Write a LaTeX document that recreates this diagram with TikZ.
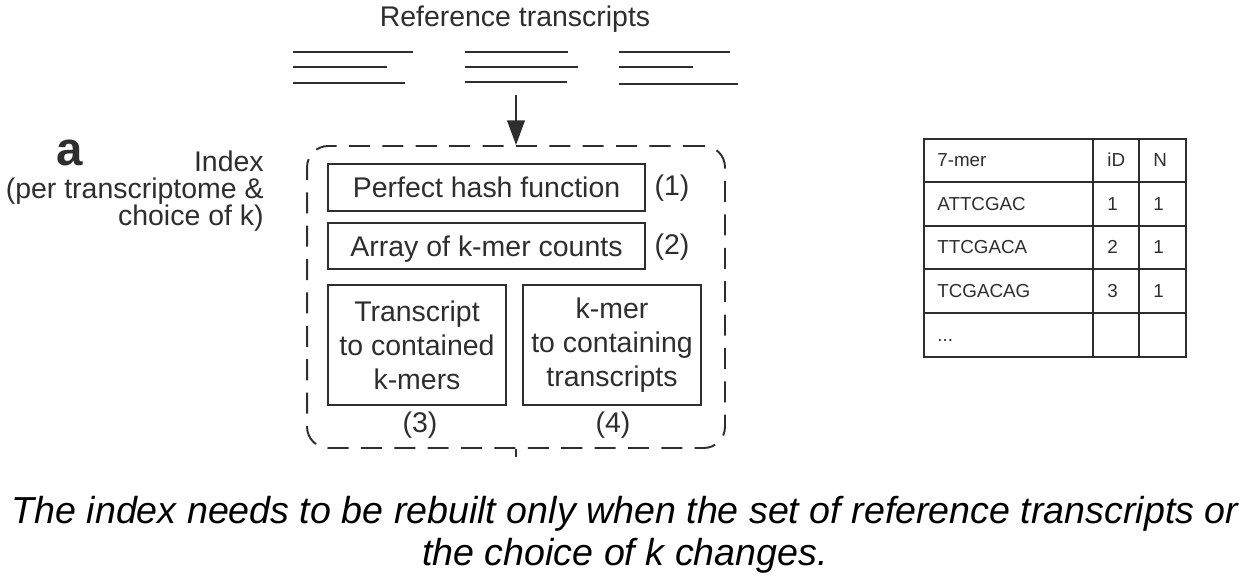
\documentclass[tikz,border=0pt]{standalone}
\usepackage{fontspec}
\setmainfont{Liberation Sans}
\usetikzlibrary{arrows.meta}
\definecolor{ink}{rgb}{0.18,0.18,0.18}
\tikzset{
  lab/.style={text=ink, inner sep=0pt, font=\fontsize{16.2}{19.3}\selectfont},
  box/.style={draw=ink, line width=1.1pt, inner sep=0pt, align=center, text=ink,
              font=\fontsize{16.2}{19.3}\selectfont},
  tline/.style={draw=ink, line width=1.3pt},
  cell/.style={text=ink, inner sep=0pt, anchor=base west, font=\fontsize{10.7}{12}\selectfont},
  grid/.style={draw=ink, line width=0.6pt},
  arr/.style={draw=ink, line width=1.1pt, -{Triangle[length=14pt,width=10pt]}},
}
\begin{document}
\begin{tikzpicture}[x=0.02cm,y=-0.02cm]
\useasboundingbox (0,0) rectangle (1250,580);

% title
\node[lab, anchor=base] (title) at (515,27) {Reference transcripts};

% transcript lines
\draw[tline] (293,52) -- (413,52);
\draw[tline] (293,67) -- (387,67);
\draw[tline] (293,83) -- (405,83);
\draw[tline] (465,52) -- (568,52);
\draw[tline] (465,67) -- (578,67);
\draw[tline] (465,82) -- (567,82);
\draw[tline] (619,52) -- (730,52);
\draw[tline] (619,67) -- (693,67);
\draw[tline] (619,84) -- (738,84);

% index box
\node[draw=ink, line width=1.1pt, dash pattern=on 12pt off 7pt, rounded corners=12pt,
      minimum width=8.36cm, minimum height=6.04cm, inner sep=0pt] (idx) at (516,297) {};
\coordinate (src) at (516,95);
\draw[arr] (src) -- (idx.north);
\coordinate (tick) at (516,457);
\draw[draw=ink, line width=1.1pt] (idx.south) -- (tick);

% inner boxes
\node[box, minimum width=6.34cm, minimum height=0.94cm, text depth=0pt] (phf) at (486.5,187.5) {Perfect hash function};
\node[box, minimum width=6.34cm, minimum height=0.92cm, text depth=0pt] (arr) at (486.5,246) {Array of k-mer counts};
\node[box, minimum width=3.56cm, minimum height=2.4cm] (t2k) at (417,345) {Transcript\\to contained\\k-mers};
\node[box, minimum width=3.56cm, minimum height=2.4cm] (k2t) at (612,345) {k-mer\\to containing\\transcripts};
\node[lab] (n1) at (672,188) {(1)};
\node[lab] (n2) at (672,247) {(2)};
\node[lab] (n3) at (420,425) {(3)};
\node[lab] (n4) at (613,425) {(4)};

% left labels
\node[text=ink, inner sep=0pt, font=\fontsize{27}{30}\selectfont\bfseries] (a) at (70,153) {a};
\node[lab, anchor=east, align=right, font=\fontsize{16.2}{15.3}\selectfont] (idxlab) at (264,191)
  {Index\\(per transcriptome \&\\choice of k)};

% table
\draw[grid] (924,139) rectangle (1186,357);
\draw[grid] (1093,139) -- (1093,357);
\draw[grid] (1139,139) -- (1139,357);
\foreach \y in {182,226,269,313} \draw[grid] (924,\y) -- (1186,\y);
\node[cell] (h1) at (937,167) {7-mer};
\node[cell] (h2) at (1107,167) {iD};
\node[cell] (h3) at (1153,167) {N};
\node[cell] (r1a) at (937,211) {ATTCGAC};
\node[cell] (r1b) at (1107,211) {1};
\node[cell] (r1c) at (1153,211) {1};
\node[cell] (r2a) at (937,254) {TTCGACA};
\node[cell] (r2b) at (1107,254) {2};
\node[cell] (r2c) at (1153,254) {1};
\node[cell] (r3a) at (937,298) {TCGACAG};
\node[cell] (r3b) at (1107,298) {3};
\node[cell] (r3c) at (1153,298) {1};
\node[cell] (r4a) at (937,342) {...};

% caption
\node[inner sep=0pt, anchor=base, font=\fontsize{21.4}{24}\selectfont\itshape] (cap1) at (625,523)
  {The index needs to be rebuilt only when the set of reference transcripts or};
\node[inner sep=0pt, anchor=base, font=\fontsize{21.4}{24}\selectfont\itshape] (cap2) at (625,565)
  {the choice of k changes.};
\end{tikzpicture}
\end{document}
